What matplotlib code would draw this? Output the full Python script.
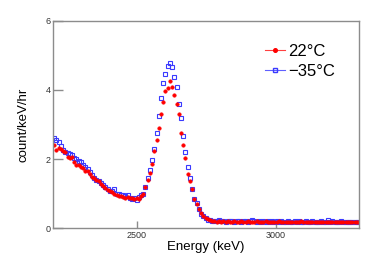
import numpy as np
import matplotlib
matplotlib.use("Agg")
import matplotlib.pyplot as plt
from matplotlib.lines import Line2D

plt.rcParams['font.family'] = ['Liberation Sans', 'DejaVu Sans']

# energy bins (keV): first bin centre and width
e_first = 2204
e_width = 8

# 22 C spectrum, count/keV/hr
red_main = [2.42, 2.27, 2.31, 2.29, 2.22, 2.19, 2.05, 2.03, 2.07, 1.90,
            1.84, 1.83, 1.77, 1.74, 1.66, 1.65, 1.57, 1.49, 1.44, 1.38,
            1.35, 1.27, 1.23, 1.16, 1.10, 1.08, 1.04, 0.99, 0.96, 0.92,
            0.93, 0.89, 0.88, 0.90, 0.87, 0.86, 0.84, 0.86, 0.84, 0.92,
            0.98, 1.18, 1.38, 1.60, 1.87, 2.22, 2.55, 2.90, 3.31, 3.66,
            3.98, 4.07, 4.27, 4.08, 3.86, 3.58, 3.31, 2.74, 2.41, 2.04,
            1.56, 1.35, 1.12, 0.83, 0.71, 0.55, 0.43, 0.35, 0.29, 0.25,
            0.22, 0.21]
red_tail = [0.20, 0.19, 0.21, 0.18, 0.20, 0.19, 0.20, 0.18, 0.19, 0.21, 0.19,
            0.18, 0.20, 0.19, 0.18, 0.20, 0.19, 0.19, 0.18, 0.20, 0.19, 0.18,
            0.19, 0.20, 0.18, 0.19, 0.17, 0.19, 0.18, 0.20, 0.19, 0.18, 0.19,
            0.18, 0.17, 0.19, 0.18, 0.19, 0.18, 0.20, 0.18, 0.19, 0.17, 0.18,
            0.19, 0.18, 0.19, 0.17, 0.18, 0.19, 0.18, 0.17, 0.19, 0.18, 0.18,
            0.19, 0.17, 0.18, 0.19, 0.18, 0.17, 0.18, 0.19, 0.17, 0.18, 0.17]

# -35 C spectrum
blue_main = [2.62, 2.55, 2.50, 2.38, 2.25, 2.20, 2.17, 2.15, 2.12, 2.03,
             2.00, 1.95, 1.90, 1.83, 1.77, 1.70, 1.62, 1.53, 1.44, 1.40,
             1.36, 1.30, 1.24, 1.18, 1.12, 1.08, 1.08, 1.12, 1.00, 0.98,
             0.96, 0.95, 0.92, 0.97, 0.88, 0.85, 0.88, 0.80, 0.90, 0.97,
             1.00, 1.18, 1.45, 1.68, 1.98, 2.30, 2.74, 3.24, 3.76, 4.20,
             4.47, 4.70, 4.77, 4.66, 4.38, 4.08, 3.59, 3.19, 2.66, 2.20,
             1.76, 1.46, 1.12, 0.84, 0.72, 0.55, 0.42, 0.34, 0.28, 0.24,
             0.22, 0.21]
blue_tail = [0.21, 0.20, 0.22, 0.20, 0.21, 0.19, 0.20, 0.21, 0.20, 0.19, 0.21,
             0.20, 0.19, 0.21, 0.20, 0.19, 0.20, 0.22, 0.20, 0.19, 0.20, 0.19,
             0.20, 0.19, 0.20, 0.18, 0.20, 0.19, 0.21, 0.19, 0.20, 0.19, 0.18,
             0.20, 0.19, 0.18, 0.20, 0.19, 0.20, 0.18, 0.19, 0.20, 0.18, 0.19,
             0.20, 0.19, 0.18, 0.19, 0.20, 0.18, 0.19, 0.22, 0.19, 0.20, 0.18,
             0.19, 0.18, 0.20, 0.19, 0.18, 0.19, 0.18, 0.17, 0.19, 0.18, 0.17]

red = np.array(red_main + red_tail)
blue = np.array(blue_main + blue_tail)
energy = e_first + e_width * np.arange(len(red))

fig = plt.figure(figsize=(3.74, 2.68), dpi=100)
ax = fig.add_axes([0.142, 0.149, 0.818, 0.773])

ax.plot(energy, blue, ls='none', marker='s', ms=2.6, mfc='none',
        mec='#3a3aff', mew=0.8)
ax.plot(energy, red, ls='none', marker='o', ms=2.6, mfc='#ff0000',
        mec='#ff0000', mew=0.3)

ax.set_xlim(2200, 3300)
ax.set_ylim(0, 6)
ax.set_xticks([2500, 3000])
ax.set_yticks([0, 2, 4, 6])

for s in ax.spines.values():
    s.set_color('#8c8c8c')
    s.set_linewidth(1.0)
ax.tick_params(direction='in', length=7, width=1.0, color='#8c8c8c',
               labelsize=6.5, labelcolor='#333333', pad=2)
ax.tick_params(axis='x', length=5)

ax.set_xlabel('Energy (keV)', fontsize=9.5, labelpad=1)
ax.set_ylabel('count/keV/hr', fontsize=9.5, labelpad=11)

handles = [Line2D([], [], color='#ff4040', lw=0.8, marker='o', ms=2.6,
                  mfc='#ff0000', mec='#ff0000'),
           Line2D([], [], color='#6060ff', lw=0.8, marker='s', ms=2.6,
                  mfc='none', mec='#3a3aff')]
ax.legend(handles, ['22\u00b0C', '\u221235\u00b0C'], loc='upper left',
          bbox_to_anchor=(0.67, 0.92), frameon=False, fontsize=12,
          handlelength=1.2, handletextpad=0.2, labelspacing=0.3,
          borderaxespad=0)

fig.savefig('out.png', dpi=100)
